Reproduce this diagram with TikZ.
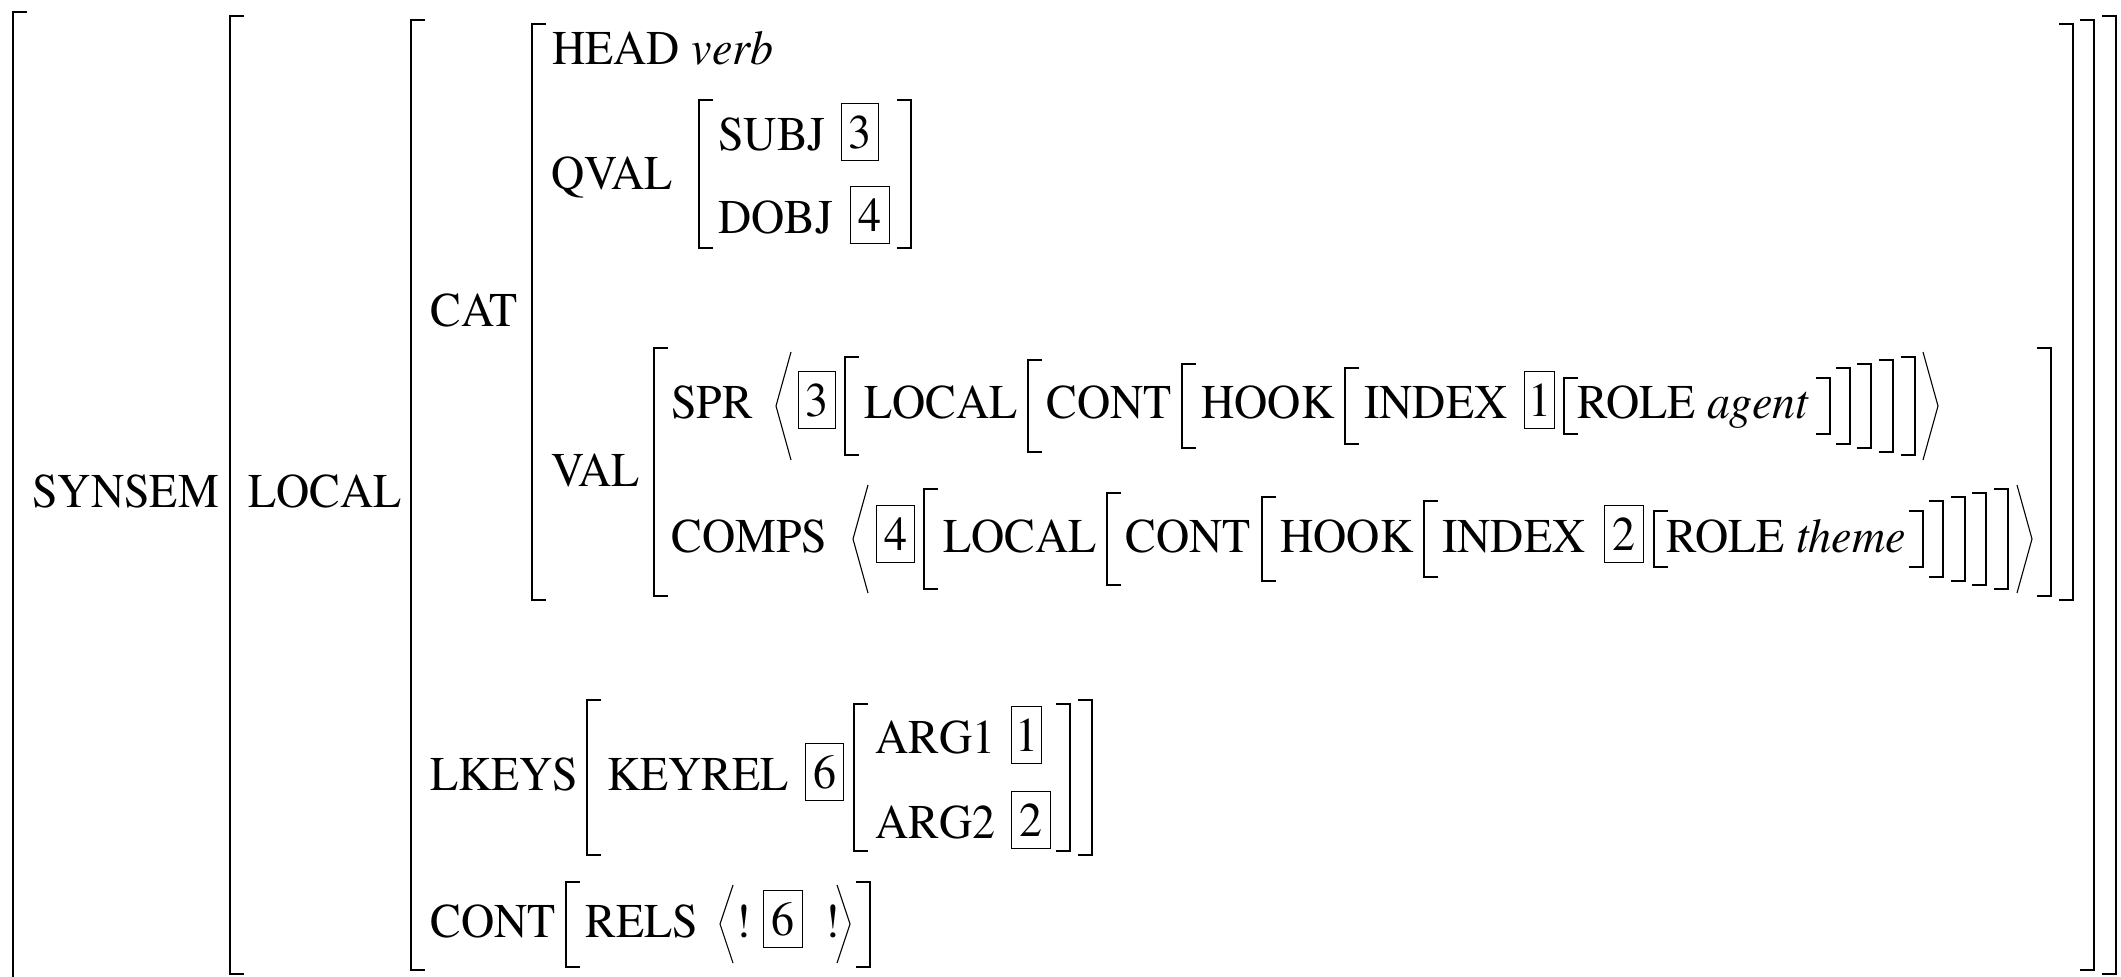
\documentclass[tikz,border=0pt]{standalone}
\usepackage[T1]{fontenc}
\usepackage{times}
\usepackage{graphicx}
\newcommand\avmL[3]{\draw[br] ({#1+14},#2) -- (#1,#2) -- (#1,#3) -- ({#1+14},#3);}
\newcommand\avmR[3]{\draw[br] ({#1-14},#2) -- (#1,#2) -- (#1,#3) -- ({#1-14},#3);}
\newcommand\angL[4]{\draw[ang] ({#1+#4},#2) -- (#1,{(#2+#3)/2}) -- ({#1+#4},#3);}
\newcommand\angR[4]{\draw[ang] ({#1-#4},#2) -- (#1,{(#2+#3)/2}) -- ({#1-#4},#3);}
\newcommand\sq[1]{\scalebox{0.95}[1]{#1}}
\begin{document}
\begin{tikzpicture}[x=0.5pt,y=-0.5pt,
  br/.style={line width=0.75pt, line cap=butt, line join=miter},
  ang/.style={line width=0.55pt},
  lbl/.style={anchor=base west, inner sep=0pt, font=\fontsize{24.2}{29}\selectfont},
  tag/.style={draw, line width=0.7pt, inner sep=0pt, minimum height=28.5pt, anchor=north west, font=\fontsize{24.2}{29}\selectfont}]
\useasboundingbox (0,0) rectangle (2121,976);
% big brackets
\avmL{13}{12}{980}
\avmL{230}{16}{974} \avmR{2116}{16}{974}
\avmL{411}{20}{970} \avmR{2094}{20}{970}
\avmL{532}{24}{600} \avmR{2073}{24}{600}
\avmL{654}{348}{596} \avmR{2051}{348}{596}
\avmL{699}{100}{248} \avmR{911}{100}{248}
% SPR row
\avmL{845}{357}{455} \avmL{1028}{360}{452} \avmL{1182}{364}{448} \avmL{1345}{368}{444} \avmL{1564}{378}{434}
\avmR{1830}{378}{434} \avmR{1850}{368}{444} \avmR{1871}{364}{448} \avmR{1893}{360}{452} \avmR{1915}{357}{455}
\angL{776}{352}{460}{15} \angR{1938}{352}{460}{15}
% COMPS row
\avmL{924}{489}{589} \avmL{1107}{493}{585} \avmL{1262}{497}{581} \avmL{1424}{501}{577} \avmL{1654}{511}{567}
\avmR{1923}{511}{567} \avmR{1943}{501}{577} \avmR{1965}{497}{581} \avmR{1986}{493}{585} \avmR{2008}{489}{589}
\angL{853}{485}{593}{15} \angR{2032}{485}{593}{15}
% LKEYS
\avmL{587}{700}{855} \avmR{1092}{700}{855}
\avmL{854}{704}{851} \avmR{1070}{704}{851}
% CONT
\avmL{566}{882}{967} \avmR{870}{882}{967}
\angL{720}{885}{963}{13} \angR{850}{885}{963}{13}
% labels
\node[lbl] (synsem) at (32,507) {\sq{SYNSEM}};
\node[lbl] (local) at (248,507) {\sq{LOCAL}};
\node[lbl] (cat) at (430,326) {\sq{CAT}};
\node[lbl] (head) at (552,64) {\sq{HEAD \textit{verb}}};
\node[lbl] (qval) at (551,189) {\sq{QVAL}};
\node[lbl] (subj) at (718,150) {\sq{SUBJ}};
\node[lbl] (dobj) at (718,233) {\sq{DOBJ}};
\node[lbl] (val) at (551,486) {\sq{VAL}};
\node[lbl] (spr) at (671,418) {\sq{SPR}};
\node[lbl] (comps) at (671,552) {\sq{COMPS}};
\node[lbl] (localA) at (864,418) {\sq{LOCAL}};
\node[lbl] (contA) at (1046,418) {\sq{CONT}};
\node[lbl] (hookA) at (1201,418) {\sq{HOOK}};
\node[lbl] (indexA) at (1364,418) {\sq{INDEX}};
\node[lbl] (roleA) at (1577,418) {\sq{ROLE \textit{agent}}};
\node[lbl] (localB) at (943,552) {\sq{LOCAL}};
\node[lbl] (contB) at (1125,552) {\sq{CONT}};
\node[lbl] (hookB) at (1280,552) {\sq{HOOK}};
\node[lbl] (indexB) at (1442,552) {\sq{INDEX}};
\node[lbl] (roleB) at (1666,552) {\sq{ROLE \textit{theme}}};
\node[lbl] (lkeys) at (430,790) {\sq{LKEYS}};
\node[lbl] (keyrel) at (607,790) {\sq{KEYREL}};
\node[lbl] (arg1) at (875,753) {\sq{ARG1}};
\node[lbl] (arg2) at (875,838) {\sq{ARG2}};
\node[lbl] (cont) at (430,937) {\sq{CONT}};
\node[lbl] (rels) at (585,937) {\sq{RELS}};
\node[lbl] (exA) at (735,937) {!};
\node[lbl] (exB) at (824,937) {!};
% tags
\node[tag, minimum width=18.5pt] (tSubj) at (841,103) {\sq{3}};
\node[tag, minimum width=19.5pt] (tDobj) at (850,186) {\sq{4}};
\node[tag, minimum width=18.5pt] (tSpr) at (798,371) {\sq{3}};
\node[tag, minimum width=15pt] (tIdxA) at (1524,371) {\sq{1}};
\node[tag, minimum width=19pt] (tComps) at (876,505) {\sq{4}};
\node[tag, minimum width=19.5pt] (tIdxB) at (1604,505) {\sq{2}};
\node[tag, minimum width=19pt] (tKey) at (805,743) {\sq{6}};
\node[tag, minimum width=15pt] (tArg1) at (1011,706) {\sq{1}};
\node[tag, minimum width=19.5pt] (tArg2) at (1011,791) {\sq{2}};
\node[tag, minimum width=19.5pt] (tRels) at (763,890) {\sq{6}};
\end{tikzpicture}
\end{document}
